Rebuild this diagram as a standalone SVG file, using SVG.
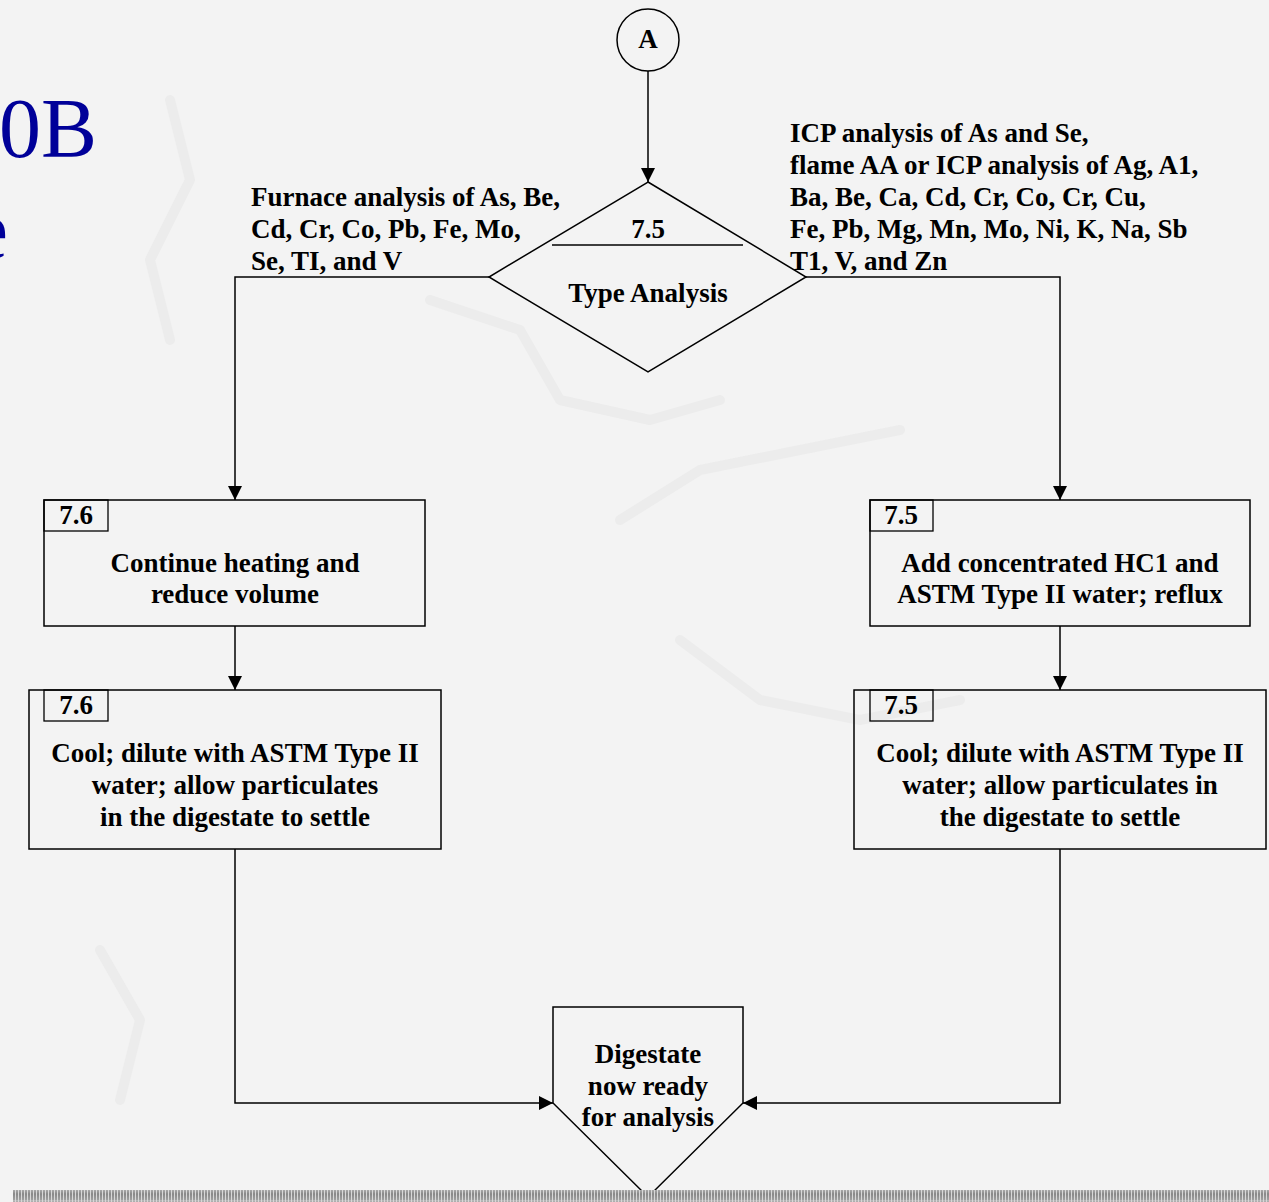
<svg xmlns="http://www.w3.org/2000/svg" width="1269" height="1202" viewBox="0 0 1269 1202">
<defs>
<style>
.t{font-family:"Liberation Serif","Times New Roman",serif;font-weight:bold;font-size:27px;fill:#000}
.c{text-anchor:middle}
.s{fill:none;stroke:#000;stroke-width:1.5}
.n{fill:none;stroke:#000;stroke-width:1.3}
</style>
<marker id="ah" viewBox="0 0 10 10" refX="10" refY="5" markerWidth="14" markerHeight="14" markerUnits="userSpaceOnUse" orient="auto">
<path d="M0,0 L10,5 L0,10 z" fill="#000"/>
</marker>
<linearGradient id="sg" x1="0" y1="0" x2="0" y2="1">
<stop offset="0" stop-color="#bbbbbb"/>
<stop offset="0.5" stop-color="#888888"/>
<stop offset="1" stop-color="#a0a0a0"/>
</linearGradient>
<pattern id="stripe" x="13" y="0" width="3" height="12" patternUnits="userSpaceOnUse">
<rect x="0" y="0" width="2" height="12" fill="url(#sg)"/>
<rect x="2" y="0" width="1" height="12" fill="#d8d8d8"/>
</pattern>
</defs>
<rect width="1269" height="1202" fill="#f3f3f3"/>
<g id="watermark" fill="none" stroke="#ececec" stroke-width="10" stroke-linecap="round" stroke-linejoin="round">
<polyline points="170,100 190,180 150,260 170,340"/>
<polyline points="430,300 520,330 560,400 650,420 720,400"/>
<polyline points="620,520 700,470 800,450 900,430"/>
<polyline points="680,640 760,700 860,720 960,700"/>
<polyline points="100,950 140,1020 120,1100"/>
</g>
<g id="title" fill="#000099" font-family="'Liberation Serif','Times New Roman',serif">
<text x="97" y="157" font-size="84" text-anchor="end">0B</text>
<text x="8" y="258" font-size="84" text-anchor="end">e</text>
</g>
<g id="connectors">
<line class="s" x1="648" y1="71" x2="648" y2="182" marker-end="url(#ah)"/>
<polyline class="s" points="489,277 235,277 235,500" marker-end="url(#ah)"/>
<polyline class="s" points="806,277 1060,277 1060,500" marker-end="url(#ah)"/>
<line class="s" x1="235" y1="626" x2="235" y2="690" marker-end="url(#ah)"/>
<line class="s" x1="1060" y1="626" x2="1060" y2="690" marker-end="url(#ah)"/>
<polyline class="s" points="235,849 235,1103 553,1103" marker-end="url(#ah)"/>
<polyline class="s" points="1060,849 1060,1103 743,1103" marker-end="url(#ah)"/>
</g>
<g id="nodeA">
<circle class="s" cx="648" cy="40" r="31"/>
<text class="t c" x="648" y="48">A</text>
</g>
<g id="decision">
<polygon class="s" points="648,182 806,277 648,372 489,277"/>
<line class="n" x1="552" y1="245" x2="743" y2="245"/>
<text class="t c" x="648" y="238">7.5</text>
<text class="t c" x="648" y="302">Type Analysis</text>
</g>
<g id="labelLeft">
<text class="t" x="251" y="206">Furnace analysis of As, Be,</text>
<text class="t" x="251" y="238">Cd, Cr, Co, Pb, Fe, Mo,</text>
<text class="t" x="251" y="270">Se, TI, and V</text>
</g>
<g id="labelRight">
<text class="t" x="790" y="142">ICP analysis of As and Se,</text>
<text class="t" x="790" y="174">flame AA or ICP analysis of Ag, A1,</text>
<text class="t" x="790" y="206">Ba, Be, Ca, Cd, Cr, Co, Cr, Cu,</text>
<text class="t" x="790" y="238">Fe, Pb, Mg, Mn, Mo, Ni, K, Na, Sb</text>
<text class="t" x="790" y="270">T1, V, and Zn</text>
</g>
<g id="box76a">
<rect class="s" x="44" y="500" width="381" height="126"/>
<rect class="n" x="44" y="500" width="64" height="31"/>
<text class="t c" x="76" y="524">7.6</text>
<text class="t c" x="235" y="572">Continue heating and</text>
<text class="t c" x="235" y="603">reduce volume</text>
</g>
<g id="box75a">
<rect class="s" x="870" y="500" width="380" height="126"/>
<rect class="n" x="870" y="500" width="63" height="31"/>
<text class="t c" x="901" y="524">7.5</text>
<text class="t c" x="1060" y="572">Add concentrated HC1 and</text>
<text class="t c" x="1060" y="603">ASTM Type II water; reflux</text>
</g>
<g id="box76b">
<rect class="s" x="29" y="690" width="412" height="159"/>
<rect class="n" x="44" y="690" width="64" height="31"/>
<text class="t c" x="76" y="714">7.6</text>
<text class="t c" x="235" y="762">Cool; dilute with ASTM Type II</text>
<text class="t c" x="235" y="794">water; allow particulates</text>
<text class="t c" x="235" y="826">in the digestate to settle</text>
</g>
<g id="box75b">
<rect class="s" x="854" y="690" width="412" height="159"/>
<rect class="n" x="870" y="690" width="63" height="31"/>
<text class="t c" x="901" y="714">7.5</text>
<text class="t c" x="1060" y="762">Cool; dilute with ASTM Type II</text>
<text class="t c" x="1060" y="794">water; allow particulates in</text>
<text class="t c" x="1060" y="826">the digestate to settle</text>
</g>
<g id="offpage">
<polygon class="s" points="553,1007 743,1007 743,1103 648,1197 553,1103"/>
<text class="t c" x="648" y="1063">Digestate</text>
<text class="t c" x="648" y="1095">now ready</text>
<text class="t c" x="648" y="1126">for analysis</text>
</g>
<rect id="strip" x="13" y="1190" width="1256" height="12" fill="url(#stripe)"/>
</svg>
